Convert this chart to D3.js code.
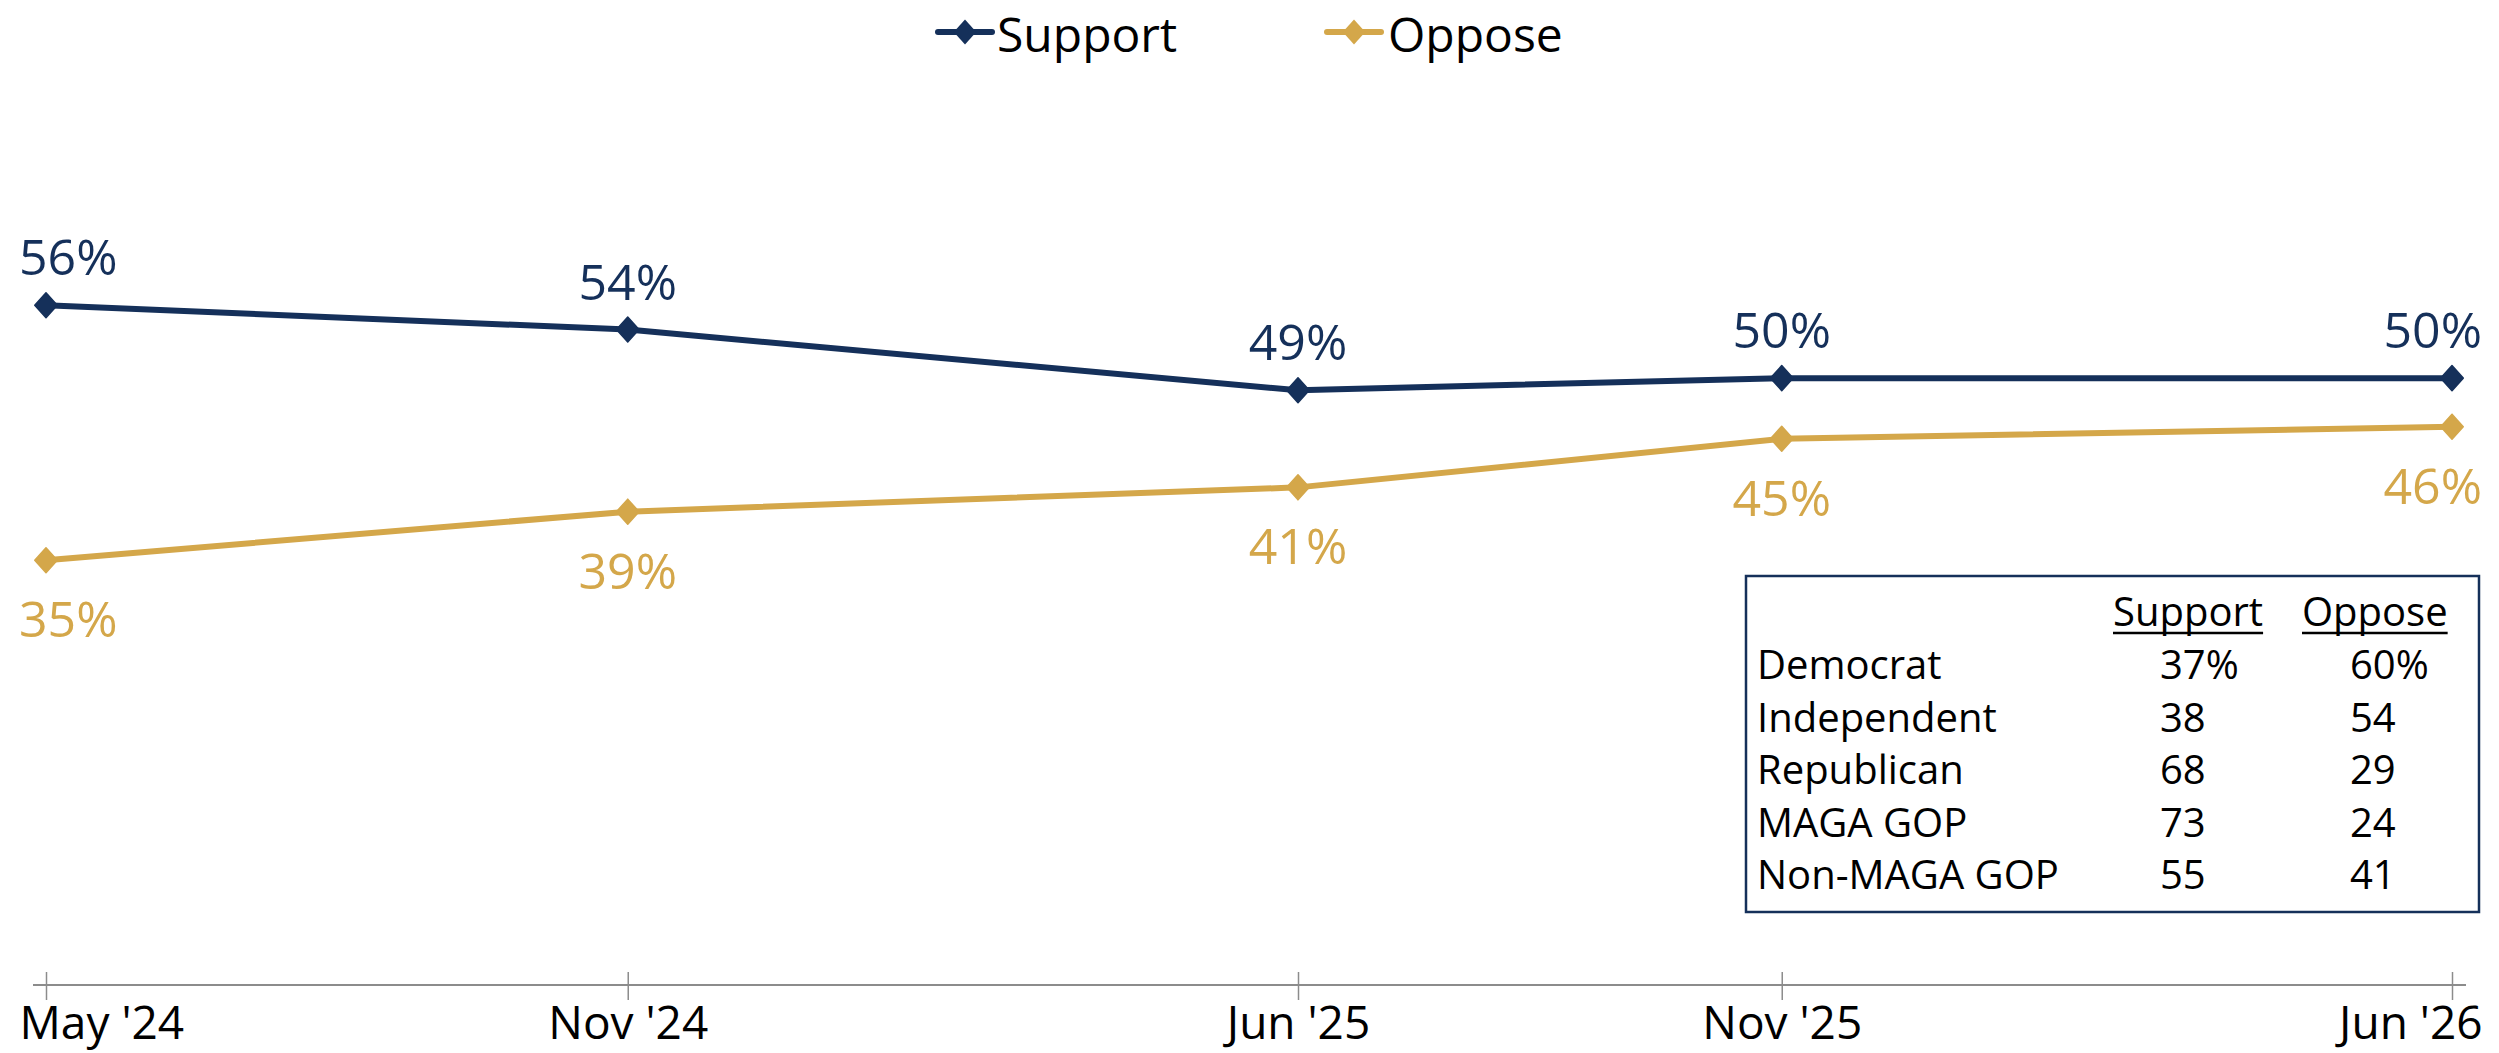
<!DOCTYPE html>
<html><head><meta charset="utf-8">
<script src="https://cdn.jsdelivr.net/npm/d3@7"></script>
<style>
html,body{margin:0;padding:0;background:#fff;}
svg{display:block;font-family:"Open Sans",sans-serif;}
</style></head>
<body>
<svg id="chart" width="2499" height="1053"></svg>
<script>
// ---- data ----
const dates = ["2024-05-01","2024-11-01","2025-06-01","2025-11-01","2026-06-01"];
const tickLabels = ["May '24","Nov '24","Jun '25","Nov '25","Jun '26"];
const supportValues = [56, 54, 49, 50, 50];
const opposeValues = [35, 39, 41, 45, 46];
const seriesNames = ["Support", "Oppose"];
const tableGroups = ["Democrat","Independent","Republican","MAGA GOP","Non-MAGA GOP"];
const tableSupport = ["37%","38","68","73","55"];
const tableOppose = ["60%","54","29","24","41"];

const colors = {Support:"#15305A", Oppose:"#D4A74A"};
const parse = d3.utcParse("%Y-%m-%d");
const svg = d3.select("#chart");
const clampL = 19, clampR = 2482;

const x = d3.scaleUtc().domain([parse(dates[0]), parse(dates[dates.length-1])]).range([46, 2452]);
const y = d3.scaleLinear().domain([0, 80]).range([985, 14]);

// axis
const axisG = svg.append("g").attr("transform", `translate(0,${y(0)})`);
axisG.append("line").attr("x1", 33).attr("x2", 2466).attr("stroke", "#8c8c8c").attr("stroke-width", 2);
const axis = d3.axisBottom(x).tickValues(dates.map(parse)).tickSize(0).tickFormat((d,i)=>tickLabels[i]);
const ag = axisG.append("g").call(axis);
ag.select(".domain").remove();
ag.selectAll(".tick line").attr("y1", -13).attr("y2", 15).attr("stroke", "#8c8c8c").attr("stroke-width", 1.5);
ag.selectAll(".tick text").attr("font-size", 46).attr("fill", "#000").attr("font-family", "Open Sans")
  .attr("y", 0).attr("dy", 0).attr("transform", "translate(0,54)");

ag.selectAll(".tick").each(function(d){
  const t = d3.select(this).select("text");
  const w = t.node().getComputedTextLength();
  const cx = x(d);
  let left = cx - w/2;
  if (left < clampL) left = clampL;
  if (left + w > clampR) left = clampR - w;
  t.attr("text-anchor","start").attr("x", left - cx);
});

// lines
const series = [
  {name: "Support", values: supportValues, above: true},
  {name: "Oppose", values: opposeValues, above: false}
];
const line = d3.line().x((d,i)=>x(parse(dates[i]))).y(d=>y(d));
const diamond = (s) => `M0,${-s}L${s*0.9},0L0,${s}L${-s*0.9},0Z`;

series.forEach(s => {
  const g = svg.append("g");
  g.append("path").datum(s.values).attr("d", line).attr("fill", "none")
    .attr("stroke", colors[s.name]).attr("stroke-width", 6).attr("stroke-linejoin","round");
  g.selectAll("path.m").data(s.values).join("path").attr("class","m")
    .attr("transform",(d,i)=>`translate(${x(parse(dates[i]))},${y(d)})`)
    .attr("d", diamond(12.5)).attr("fill", colors[s.name]).attr("stroke", colors[s.name]).attr("stroke-width",1.5).attr("stroke-linejoin","round");
  g.selectAll("text.lab").data(s.values).join("text").attr("class","lab")
    .attr("font-size", 50).attr("fill", colors[s.name])
    .attr("y", d => y(d) + (s.above ? -30 : 77))
    .text(d => d + "%")
    .each(function(d,i){
      const w = this.getComputedTextLength();
      const cx = x(parse(dates[i]));
      let left = cx - w/2;
      if (left < clampL) left = clampL;
      if (left + w > clampR) left = clampR - w;
      d3.select(this).attr("x", left);
    });
});

// legend
const legend = svg.append("g");
const legendPos = [{lx: 938, tx: 997}, {lx: 1327, tx: 1388}];
seriesNames.forEach((n, i) => {
  const p = legendPos[i];
  legend.append("line").attr("x1", p.lx).attr("x2", p.lx + 54).attr("y1", 32).attr("y2", 32)
    .attr("stroke", colors[n]).attr("stroke-width", 6).attr("stroke-linecap","round");
  legend.append("path").attr("transform", `translate(${p.lx+27},32)`).attr("d", diamond(12.5)).attr("fill", colors[n]);
  legend.append("text").attr("x", p.tx).attr("y", 52).attr("font-size", 48).attr("fill", "#000").text(n);
});

// table box
const tb = svg.append("g");
tb.append("rect").attr("x", 1746).attr("y", 576).attr("width", 733).attr("height", 336)
  .attr("fill", "#fff").attr("stroke", "#15305A").attr("stroke-width", 2.5);
const headX = [2113, 2302];
seriesNames.forEach((n, i) => {
  const t = tb.append("text").attr("x", headX[i]).attr("y", 626).attr("font-size", 40).attr("fill", "#000").text(n);
  const w = t.node().getComputedTextLength();
  tb.append("line").attr("x1", headX[i]).attr("x2", headX[i] + w).attr("y1", 633).attr("y2", 633)
    .attr("stroke", "#000").attr("stroke-width", 2.5);
});
const rowY = d3.scalePoint().domain(tableGroups).range([679, 889]);
tb.selectAll("text.g").data(tableGroups).join("text").attr("class","g")
  .attr("x", 1757).attr("y", d => rowY(d)).attr("font-size", 40).attr("fill","#000").text(d => d);
tb.selectAll("text.s").data(tableSupport).join("text").attr("class","s")
  .attr("x", 2160).attr("y", (d,i) => rowY(tableGroups[i])).attr("font-size", 40).attr("fill","#000").text(d => d);
tb.selectAll("text.o").data(tableOppose).join("text").attr("class","o")
  .attr("x", 2350).attr("y", (d,i) => rowY(tableGroups[i])).attr("font-size", 40).attr("fill","#000").text(d => d);
</script>
</body></html>
